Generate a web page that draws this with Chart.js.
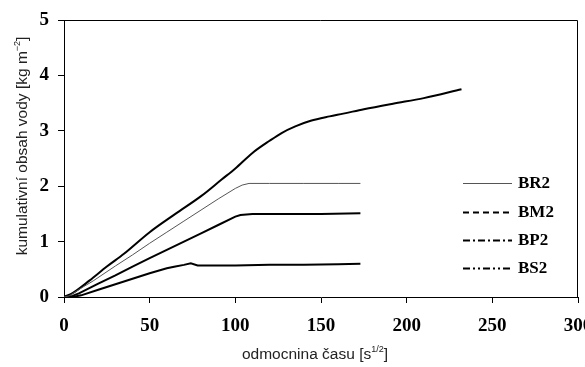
<!DOCTYPE html>
<html>
<head>
<meta charset="utf-8">
<script src="https://cdn.jsdelivr.net/npm/chart.js@4/dist/chart.umd.min.js"></script>
<style>
  body { margin: 0; background: #fff; }
</style>
</head>
<body>
<canvas id="chart" width="585" height="367"></canvas>
<script>
// values
const xTicks = [0, 50, 100, 150, 200, 250, 300];
const yTicks = [0, 1, 2, 3, 4, 5];
const seriesNames = ['BR2', 'BM2', 'BP2', 'BS2'];

const br2X = [0, 3, 10, 17, 30, 40, 50, 60, 70, 80, 90, 100, 104, 108, 120, 140, 160, 173];
const br2Y = [0, 0.02, 0.16, 0.29, 0.56, 0.76, 0.97, 1.17, 1.37, 1.57, 1.77, 1.96, 2.02, 2.05, 2.05, 2.05, 2.05, 2.05];

const bm2X = [0, 5, 9, 20, 30, 40, 50, 60, 70, 80, 90, 100, 103, 110, 130, 150, 173];
const bm2Y = [0, 0.02, 0.07, 0.24, 0.39, 0.55, 0.70, 0.85, 1.00, 1.15, 1.30, 1.45, 1.48, 1.50, 1.50, 1.50, 1.51];

const bp2X = [0, 5, 10, 20, 30, 40, 50, 60, 65, 70, 74, 78, 85, 100, 120, 140, 160, 173];
const bp2Y = [0, 0, 0.03, 0.13, 0.23, 0.33, 0.43, 0.52, 0.55, 0.58, 0.61, 0.57, 0.57, 0.57, 0.58, 0.58, 0.59, 0.60];

const bs2X = [0, 5, 15, 25, 35, 50, 65, 80, 92, 100, 110, 120, 127, 135, 144, 155, 163, 175, 192, 210, 232];
const bs2Y = [0, 0.07, 0.30, 0.55, 0.78, 1.17, 1.50, 1.82, 2.12, 2.32, 2.60, 2.82, 2.96, 3.08, 3.18, 3.26, 3.31, 3.39, 3.49, 3.59, 3.75];

const toPoints = (xs, ys) => xs.map((x, i) => ({ x: x, y: ys[i] }));

const serif = "'Liberation Serif', 'Times New Roman', serif";
const sans = "'Liberation Sans', Arial, sans-serif";

// draws the frame, the axis titles (with superscripts) and the legend
const decorations = {
    id: 'decorations',
    afterDraw(chart) {
        const ctx = chart.ctx;
        const a = chart.chartArea;
        ctx.save();
        ctx.strokeStyle = '#000';
        ctx.lineWidth = 1;
        ctx.beginPath();
        ctx.moveTo(a.left, a.top + 0.5);
        ctx.lineTo(a.right - 0.5, a.top + 0.5);
        ctx.lineTo(a.right - 0.5, a.bottom);
        ctx.stroke();

        // x title
        ctx.fillStyle = '#222';
        ctx.textBaseline = 'alphabetic';
        const xMain = 'odmocnina času [s';
        ctx.font = '15.5px ' + sans;
        const w1 = ctx.measureText(xMain).width;
        ctx.font = '9px ' + sans;
        const w2 = ctx.measureText('1/2').width;
        ctx.font = '15.5px ' + sans;
        const w3 = ctx.measureText(']').width;
        let x0 = 315 - (w1 + w2 + w3) / 2;
        const yb = 359;
        ctx.fillText(xMain, x0, yb);
        ctx.font = '9px ' + sans;
        ctx.fillText('1/2', x0 + w1, yb - 7);
        ctx.font = '15.5px ' + sans;
        ctx.fillText(']', x0 + w1 + w2, yb);

        // y title
        ctx.save();
        ctx.translate(27, 146);
        ctx.rotate(-Math.PI / 2);
        const yMain = 'kumulativní obsah vody [kg m';
        ctx.font = '15.5px ' + sans;
        const v1 = ctx.measureText(yMain).width;
        ctx.font = '9px ' + sans;
        const v2 = ctx.measureText('−2').width;
        ctx.font = '15.5px ' + sans;
        const v3 = ctx.measureText(']').width;
        let s0 = -(v1 + v2 + v3) / 2;
        ctx.fillText(yMain, s0, 0);
        ctx.font = '9px ' + sans;
        ctx.fillText('−2', s0 + v1, -7);
        ctx.font = '15.5px ' + sans;
        ctx.fillText(']', s0 + v1 + v2, 0);
        ctx.restore();

        // legend
        const rows = [183, 212, 240, 268];
        chart.data.datasets.forEach((ds, i) => {
            const y = rows[i] + 0.5;
            ctx.strokeStyle = ds.borderColor;
            ctx.lineWidth = ds.legendWidth;
            ctx.setLineDash(ds.legendDash);
            ctx.beginPath();
            ctx.moveTo(463, y);
            ctx.lineTo(512, y);
            ctx.stroke();
            ctx.setLineDash([]);
            ctx.fillStyle = '#000';
            ctx.font = 'bold 17px ' + serif;
            ctx.textBaseline = 'middle';
            ctx.fillText(ds.label, 518, y);
        });
        ctx.restore();
    }
};

const tickFont = { family: serif, size: 19, weight: 'bold' };

const ctx = document.getElementById('chart').getContext('2d');
new Chart(ctx, {
    type: 'line',
    data: {
        datasets: [
            { label: seriesNames[0], data: toPoints(br2X, br2Y), borderColor: '#555', borderWidth: 1,
              legendDash: [], legendWidth: 1 },
            { label: seriesNames[1], data: toPoints(bm2X, bm2Y), borderColor: '#000', borderWidth: 2,
              legendDash: [6, 4], legendWidth: 2 },
            { label: seriesNames[2], data: toPoints(bp2X, bp2Y), borderColor: '#000', borderWidth: 2,
              legendDash: [7, 3, 2, 3], legendWidth: 2 },
            { label: seriesNames[3], data: toPoints(bs2X, bs2Y), borderColor: '#000', borderWidth: 2,
              cubicInterpolationMode: 'monotone', legendDash: [7, 3, 2, 3, 2, 3], legendWidth: 2 }
        ]
    },
    options: {
        responsive: false,
        animation: false,
        elements: { point: { radius: 0 }, line: { tension: 0 } },
        layout: { padding: { top: 20, right: 7, left: 0, bottom: 0 } },
        plugins: { legend: { display: false }, tooltip: { enabled: false } },
        scales: {
            x: {
                type: 'linear',
                min: 0,
                max: 300,
                afterBuildTicks: scale => { scale.ticks = xTicks.map(v => ({ value: v })); },
                afterFit: scale => {
                    scale.height = 70;
                    scale.paddingLeft = 0;
                    scale.paddingRight = 0;
                },
                grid: { drawOnChartArea: false, drawTicks: true, tickLength: 6, color: '#000' },
                border: { color: '#000', width: 1 },
                ticks: { color: '#000', padding: 12, maxRotation: 0, font: tickFont }
            },
            y: {
                min: 0,
                max: 5,
                afterBuildTicks: scale => { scale.ticks = yTicks.map(v => ({ value: v })); },
                afterFit: scale => {
                    scale.width = 64;
                    scale.paddingTop = 0;
                    scale.paddingBottom = 0;
                },
                grid: { drawOnChartArea: false, drawTicks: true, tickLength: 6, color: '#000' },
                border: { color: '#000', width: 1 },
                ticks: { color: '#000', padding: 9, font: tickFont }
            }
        }
    },
    plugins: [decorations]
});
</script>
</body>
</html>
